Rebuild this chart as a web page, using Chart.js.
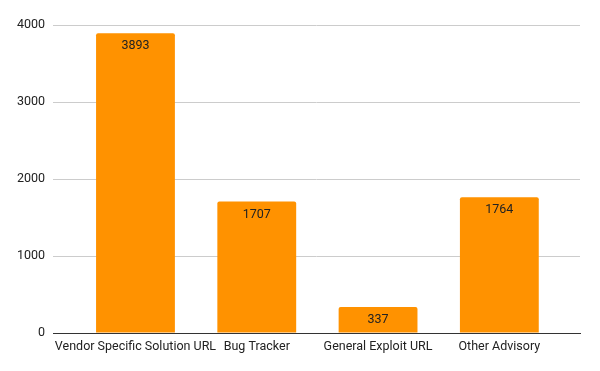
<!DOCTYPE html>
<html><head><meta charset="utf-8">
<script src="https://cdn.jsdelivr.net/npm/chart.js@4"></script>
<style>html,body{margin:0;padding:0;background:#fff}#wrap{width:600px;height:371px}</style>
</head><body><div id="wrap"><canvas id="c"></canvas></div>
<script>
const categories = ["Vendor Specific Solution URL", "Bug Tracker", "General Exploit URL", "Other Advisory"];
const values = [3893, 1707, 337, 1764];
const yTicks = [0, 1000, 2000, 3000, 4000];

const points = values.map((v, i) => ({x: i, y: v}));

const labelPlugin = {
  id: 'barLabels',
  afterDatasetsDraw(chart) {
    const ctx = chart.ctx;
    const meta = chart.getDatasetMeta(0);
    ctx.save();
    ctx.font = '12.5px Roboto';
    ctx.fillStyle = '#222';
    ctx.textAlign = 'center';
    ctx.textBaseline = 'middle';
    meta.data.forEach((bar, i) => {
      ctx.fillText(String(values[i]), bar.x, bar.y + 13);
    });
    ctx.restore();
  }
};

new Chart(document.getElementById('c'), {
  type: 'bar',
  data: {
    datasets: [{
      data: points,
      backgroundColor: '#ff9200',
      borderRadius: {topLeft: 2, topRight: 2},
      borderSkipped: 'bottom',
      barPercentage: 0.65,
      categoryPercentage: 1
    }]
  },
  options: {
    responsive: true,
    maintainAspectRatio: false,
    animation: false,
    layout: {padding: {top: 25, right: 20, left: 0, bottom: 0}},
    plugins: {legend: {display: false}, tooltip: {enabled: false}},
    scales: {
      x: {
        type: 'linear',
        min: -0.68,
        max: 3.665,
        offset: false,
        grid: {display: false, drawTicks: false},
        border: {display: true, color: '#333', width: 1},
        ticks: {
          stepSize: 1,
          includeBounds: false,
          autoSkip: false,
          maxRotation: 0,
          padding: 6,
          color: '#222',
          font: {family: 'Roboto', size: 12.5},
          callback: (v) => Number.isInteger(v) && categories[v] !== undefined ? categories[v] : ''
        },
        afterFit(s) { s.height = 38; }
      },
      y: {
        min: 0,
        max: 4000,
        afterBuildTicks(s) { s.ticks = yTicks.map(v => ({value: v})); },
        grid: {color: '#cccccc', drawTicks: false},
        border: {display: false},
        ticks: {
          padding: 8,
          color: '#222',
          font: {family: 'Roboto', size: 12.5},
          callback: (v) => String(v)
        },
        afterFit(s) { s.width = 53; }
      }
    }
  },
  plugins: [labelPlugin]
});
</script>
</body></html>
